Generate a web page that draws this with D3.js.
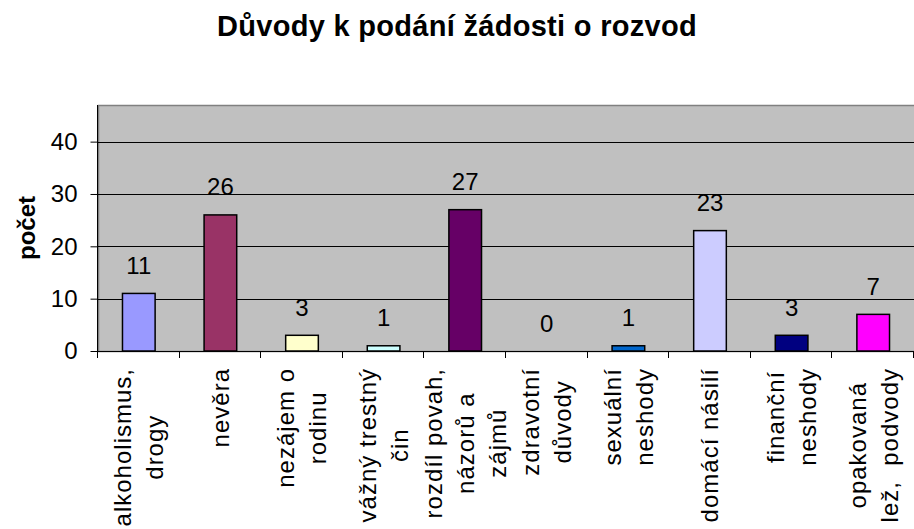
<!DOCTYPE html>
<html>
<head>
<meta charset="utf-8">
<script src="https://cdn.jsdelivr.net/npm/d3@7"></script>
<style>
  body { margin: 0; background: #fff; }
  text { font-family: Arial, "Liberation Sans", sans-serif; fill: #000; }
</style>
</head>
<body>
<svg id="chart" width="914" height="529"></svg>
<script>
var categories = [
  ["alkoholismus,", "drogy"],
  ["nevěra"],
  ["nezájem o", "rodinu"],
  ["vážný trestný", "čin"],
  ["rozdíl povah,", "názorů a", "zájmů"],
  ["zdravotní", "důvody"],
  ["sexuální", "neshody"],
  ["domácí násilí"],
  ["finanční", "neshody"],
  ["opakovaná", "lež,  podvody"]
];
var values = [11, 26, 3, 1, 27, 0, 1, 23, 3, 7];
var colors = ["#9999FF", "#993366", "#FFFFCC", "#CCFFFF", "#660066",
              "#FF8080", "#0066CC", "#CCCCFF", "#000080", "#FF00FF"];
var yTicks = [0, 10, 20, 30, 40];

var svg = d3.select("svg#chart"),
    plotLeft = 98, plotRight = 914, plotTop = 105, plotBottom = 351;

var x = d3.scaleBand()
    .domain(d3.range(values.length))
    .range([plotLeft, plotRight])
    .paddingInner(0.6)
    .paddingOuter(0.3);

var y = d3.scaleLinear()
    .domain([0, 47])
    .range([plotBottom, plotTop]);

// title
svg.append("text")
    .attr("x", 457)
    .attr("y", 36)
    .attr("text-anchor", "middle")
    .style("font-size", "29px")
    .style("font-weight", "bold")
    .style("letter-spacing", "0.3px")
    .text("Důvody k podání žádosti o rozvod");

// plot background
svg.append("rect")
    .attr("x", plotLeft + 0.5)
    .attr("y", plotTop + 0.5)
    .attr("width", plotRight - plotLeft + 2)
    .attr("height", plotBottom - plotTop)
    .attr("fill", "#C0C0C0")
    .attr("stroke", "#808080")
    .attr("stroke-width", 1.5);

// gridlines
svg.append("g")
  .selectAll("line")
  .data(yTicks.filter(function(d) { return d > 0; }))
  .enter().append("line")
    .attr("x1", plotLeft)
    .attr("x2", plotRight + 2)
    .attr("y1", function(d) { return Math.round(y(d)) + 0.5; })
    .attr("y2", function(d) { return Math.round(y(d)) + 0.5; })
    .attr("stroke", "#000")
    .attr("stroke-width", 1);

// bars (zero values draw nothing)
svg.append("g")
  .selectAll("rect")
  .data(values)
  .enter().append("rect")
    .attr("display", function(d) { return d > 0 ? null : "none"; })
    .attr("x", function(d, i) { return x(i); })
    .attr("y", function(d) { return y(d); })
    .attr("width", x.bandwidth())
    .attr("height", function(d) { return y(0) - y(d); })
    .attr("fill", function(d, i) { return colors[i]; })
    .attr("stroke", "#000")
    .attr("stroke-width", 1.5);

// value labels
svg.append("g")
  .selectAll("text")
  .data(values)
  .enter().append("text")
    .attr("x", function(d, i) { return x(i) + x.bandwidth() / 2; })
    .attr("y", function(d) { return y(d) - 19.5; })
    .attr("text-anchor", "middle")
    .style("font-size", "24px")
    .text(function(d) { return d; });

// y axis
var yAxis = d3.axisLeft(y)
    .tickValues(yTicks)
    .tickSize(7)
    .tickPadding(13);
var gy = svg.append("g")
    .attr("transform", "translate(" + (plotLeft - 0.5) + ",0)")
    .call(yAxis);
gy.select(".domain").attr("stroke", "#000").attr("d", "M0," + plotTop + "V" + (plotBottom + 0.5));
gy.selectAll(".tick line").attr("stroke", "#000");
gy.selectAll(".tick text")
    .style("font-size", "24px")
    .style("font-family", "Arial, 'Liberation Sans', sans-serif")
    .attr("fill", "#000");

// x axis line and ticks at band boundaries
svg.append("line")
    .attr("x1", plotLeft - 0.5)
    .attr("x2", plotRight + 2)
    .attr("y1", plotBottom + 0.5)
    .attr("y2", plotBottom + 0.5)
    .attr("stroke", "#000");
svg.append("g")
  .selectAll("line")
  .data(d3.range(values.length + 1))
  .enter().append("line")
    .attr("x1", function(i) { return Math.round(plotLeft + i * x.step()) - 0.5; })
    .attr("x2", function(i) { return Math.round(plotLeft + i * x.step()) - 0.5; })
    .attr("y1", plotBottom)
    .attr("y2", plotBottom + 7)
    .attr("stroke", "#000");

// category labels, rotated, wrapped lines
var lineGap = 32;
var labels = svg.append("g")
  .selectAll("g")
  .data(categories)
  .enter().append("g")
    .attr("transform", function(d, i) {
      return "translate(" + (x(i) + x.bandwidth() / 2) + ",368) rotate(-90)";
    });

labels.each(function(lines) {
  var g = d3.select(this);
  var texts = g.selectAll("text")
    .data(lines)
    .enter().append("text")
      .attr("text-anchor", "middle")
      .attr("dy", "0.35em")
      .style("font-size", "24px")
      .style("letter-spacing", "1px")
      .style("white-space", "pre")
      .attr("xml:space", "preserve")
      .attr("y", function(d, j) { return (j - (lines.length - 1) / 2) * lineGap; })
      .text(function(d) { return d; });
  var maxLen = d3.max(texts.nodes(), function(n) { return n.getComputedTextLength(); });
  texts.attr("x", -maxLen / 2);
});

// y axis title
svg.append("text")
    .attr("transform", "translate(35,228) rotate(-90)")
    .attr("text-anchor", "middle")
    .style("font-size", "24px")
    .style("font-weight", "bold")
    .text("počet");
</script>
</body>
</html>
